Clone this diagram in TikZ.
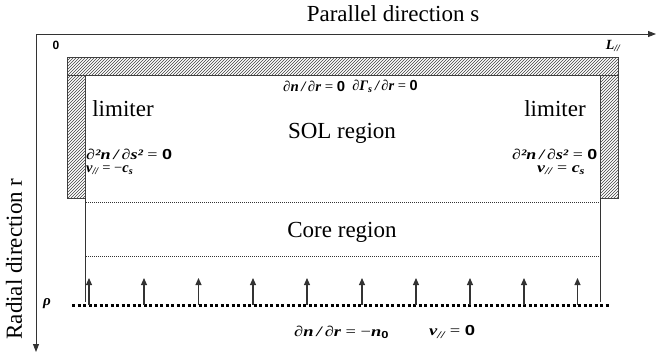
\documentclass[tikz,border=0pt]{standalone}
\usepackage{fontspec}
\usepackage{graphicx}
\setmainfont{Liberation Serif}
\newfontfamily\sansb{Liberation Sans}
\newfontfamily\serifr{Liberation Serif}
\usetikzlibrary{patterns,arrows.meta}
\newcommand\fbi[1]{{\serifr\bfseries\itshape #1}}
\newcommand\fzero{{\sansb\bfseries 0}}
\newcommand\fitw[2]{\resizebox{#1}{\height}{#2}}
\begin{document}
\begin{tikzpicture}[x=1pt,y=-1pt,
  axis/.style={line width=0.9pt,draw=black!80,-{Triangle[length=8pt,width=6pt]}},
  wall/.style={draw=black!75,line width=0.8pt,pattern=north east lines,pattern color=black!75},
  bigtxt/.style={font=\serifr\fontsize{23}{25}\selectfont,inner sep=0pt},
  formula/.style={font=\serifr\fontsize{14.5}{15}\selectfont,inner sep=0pt,anchor=west},
  thinline/.style={draw=black!80,line width=0.8pt},
  thindot/.style={draw=black!80,line width=0.7pt,dash pattern=on 1pt off 1pt},
  thickdot/.style={draw=black,line width=3pt,dash pattern=on 3pt off 2.5pt},
  fluxarrow/.style={draw=black!80,line width=1.1pt,-{Triangle[length=7pt,width=6pt]}}]
\useasboundingbox (0,0) rectangle (657,359);
% limiter walls
\path[wall] (67,57) rectangle (618,75);
\path[wall] (67,75) rectangle (85,198);
\path[wall] (600,75) rectangle (618,198);
% texts
\node[bigtxt] (lim1) at (123,109) {limiter};
\node[bigtxt] (lim2) at (555,109) {limiter};
\node[bigtxt] (sol) at (342,133) {SOL region};
\node[bigtxt] (core) at (342,232) {Core region};
% axes
\coordinate (O) at (36,34);
\coordinate (Sx) at (656,34);
\coordinate (Ry) at (36,352);
\draw[axis] (O) -- (Sx);
\draw[axis] (O) -- (Ry);
\node[bigtxt] (stitle) at (393,14) {Parallel direction s};
\node[bigtxt,rotate=90] (rtitle) at (14,259) {Radial direction r};
\node[inner sep=0pt,font=\sansb\bfseries\fontsize{12}{12}\selectfont] (zero) at (56,45) {0};
\node[inner sep=0pt,font=\serifr\bfseries\itshape\fontsize{14}{14}\selectfont] (Lpar) at (613,46) {L\textsubscript{//}};
% domain lines
\coordinate (la) at (85,198);
\coordinate (lb) at (85,302);
\coordinate (ra) at (600.5,198);
\coordinate (rb) at (600.5,302);
\draw[thinline] (la) -- (lb);
\draw[thinline] (ra) -- (rb);
\coordinate (d1a) at (86,202);
\coordinate (d1b) at (600,202);
\coordinate (d2a) at (86,256);
\coordinate (d2b) at (600,256);
\draw[thindot] (d1a) -- (d1b);
\draw[thindot] (d2a) -- (d2b);
\coordinate (rhoa) at (72,305);
\coordinate (rhob) at (610,305);
\draw[thickdot] (rhoa) -- (rhob);
\node[inner sep=0pt,font=\serifr\bfseries\itshape\fontsize{15}{15}\selectfont] (rho) at (47,304) {ρ};
% flux arrows
\foreach \i/\x in {1/89,2/144,3/198.5,4/253,5/307,6/362,7/416,8/470,9/524,10/577.5}{
  \coordinate (fb\i) at (\x,305);
  \coordinate (ft\i) at (\x,278);
  \draw[fluxarrow] (fb\i) -- (ft\i);
}
\node[formula] (bc1) at (283,86) {\fitw{62pt}{\fbi{∂n\,/\,∂r} = \fzero}};
\node[formula,anchor=east] (bc2) at (418,86) {\fbi{∂Γ\textsubscript{s}\,/\,∂r} = \fzero};
\node[formula] (bc3) at (86,154) {\fitw{86pt}{\fbi{∂²n\,/\,∂s²} = \fzero}};
\node[formula] (bc4) at (86,170) {\fbi{v\textsubscript{//}} = −\fbi{c\textsubscript{s}}};
\node[formula] (bc5) at (512,154) {\fitw{85pt}{\fbi{∂²n\,/\,∂s²} = \fzero}};
\node[formula] (bc6) at (537,170) {\fitw{48pt}{\fbi{v\textsubscript{//}} = \fbi{c\textsubscript{s}}}};
\node[formula] (bc7) at (294,332) {\fitw{95pt}{\fbi{∂n\,/\,∂r} = −\fbi{n}\textsubscript{\fzero}}};
\node[formula] (bc8) at (429,332) {\fitw{46pt}{\fbi{v\textsubscript{//}} = \fzero}};
\end{tikzpicture}
\end{document}
